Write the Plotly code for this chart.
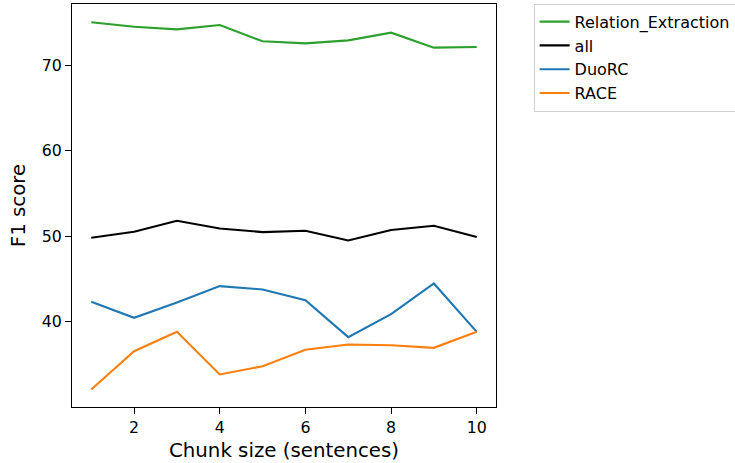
import plotly.graph_objects as go

chunk_sizes = [1, 2, 3, 4, 5, 6, 7, 8, 9, 10]
relation_extraction = [75.0, 74.48, 74.17, 74.68, 72.77, 72.53, 72.88, 73.78, 72.03, 72.10]
all_tasks = [49.82, 50.52, 51.80, 50.90, 50.48, 50.64, 49.51, 50.72, 51.22, 49.90]
duorc = [42.34, 40.47, 42.26, 44.17, 43.78, 42.53, 38.21, 40.90, 44.48, 38.83]
race = [32.09, 36.57, 38.83, 33.85, 34.82, 36.73, 37.35, 37.27, 36.96, 38.83]

series = [
    ("Relation_Extraction", relation_extraction, "#2ca02c"),
    ("all", all_tasks, "#000000"),
    ("DuoRC", duorc, "#1f77b4"),
    ("RACE", race, "#ff7f0e"),
]

fig = go.Figure()
for name, vals, color in series:
    fig.add_trace(go.Scatter(x=chunk_sizes, y=vals, mode="lines", name=name,
                             line=dict(color=color, width=2.1)))

axis_common = dict(showline=True, linecolor="black", linewidth=1, mirror=True,
                   ticks="outside", ticklen=6, tickwidth=1, tickcolor="black",
                   showgrid=False, zeroline=False, automargin=False,
                   tickfont=dict(size=15.8, color="black"))

fig.update_layout(
    width=735, height=463,
    margin=dict(l=72, r=239, t=4, b=56, autoexpand=False),
    paper_bgcolor="white", plot_bgcolor="white",
    font=dict(family="DejaVu Sans", color="black"),
    xaxis=dict(range=[0.55, 10.45], tickvals=[2, 4, 6, 8, 10],
               title=dict(text="Chunk size (sentences)", font=dict(size=19.8), standoff=7),
               **axis_common),
    yaxis=dict(range=[30.05, 77.13], tickvals=[40, 50, 60, 70],
               title=dict(text="F1 score", font=dict(size=19.8), standoff=10),
               **axis_common),
    legend=dict(xref="container", yref="container", x=0.726, y=0.992,
                xanchor="left", yanchor="top",
                bordercolor="#d0d0d0", borderwidth=1, bgcolor="white",
                font=dict(size=16), tracegroupgap=0),
    showlegend=True,
)

fig.write_html("out.html", config={"displayModeBar": False},
               post_script="document.body.style.margin='0';document.body.style.padding='0';")
